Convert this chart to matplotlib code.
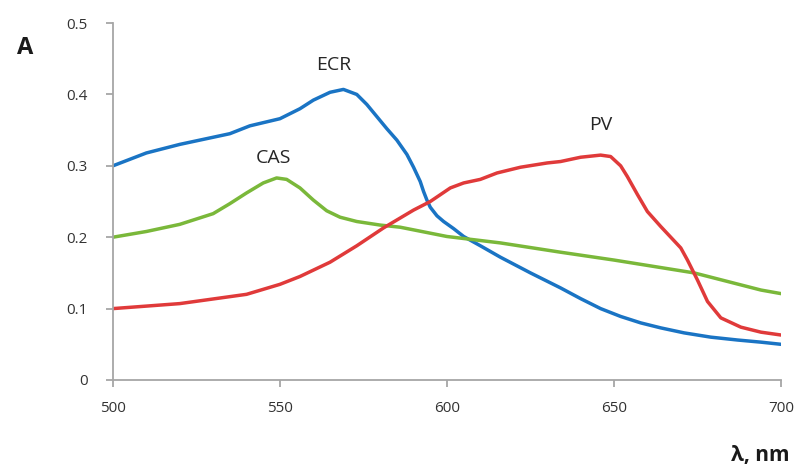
import numpy as np
import matplotlib.pyplot as plt

plt.rcParams['font.family'] = ['Open Sans', 'DejaVu Sans']

# ECR
ecr_x = [500, 510, 520, 526, 535, 541, 550, 556, 560, 565, 569, 573, 576, 579,
         582, 585, 588, 590, 592, 593, 594, 595, 597, 599, 602, 605, 610, 616,
         625, 634, 640, 646, 652, 658, 664, 671, 679, 687, 694, 700]
ecr_y = [0.300, 0.318, 0.330, 0.336, 0.345, 0.356, 0.366, 0.380, 0.392, 0.403,
         0.407, 0.400, 0.386, 0.369, 0.352, 0.336, 0.316, 0.298, 0.278, 0.264,
         0.252, 0.242, 0.230, 0.222, 0.212, 0.201, 0.188, 0.172, 0.150, 0.129,
         0.114, 0.100, 0.089, 0.080, 0.073, 0.066, 0.060, 0.056, 0.053, 0.050]

# CAS
cas_x = [500, 510, 520, 530, 535, 540, 545, 549, 552, 556, 560, 564, 568, 573,
         580, 586, 600, 616, 634, 650, 674, 694, 700]
cas_y = [0.200, 0.208, 0.218, 0.233, 0.247, 0.262, 0.276, 0.283, 0.281, 0.269,
         0.252, 0.237, 0.228, 0.222, 0.217, 0.214, 0.201, 0.192, 0.179, 0.168,
         0.150, 0.126, 0.121]

# PV
pv_x = [500, 520, 540, 550, 556, 565, 573, 581, 590, 595, 601, 605, 610, 615,
        622, 630, 634, 640, 646, 649, 652, 654, 657, 660, 664, 667, 670, 672,
        675, 678, 682, 688, 694, 700]
pv_y = [0.100, 0.107, 0.120, 0.134, 0.145, 0.165, 0.188, 0.213, 0.238, 0.250,
        0.269, 0.276, 0.281, 0.290, 0.298, 0.304, 0.306, 0.312, 0.315, 0.313,
        0.300, 0.285, 0.260, 0.236, 0.215, 0.200, 0.185, 0.168, 0.140, 0.110,
        0.087, 0.074, 0.067, 0.063]

fig = plt.figure(figsize=(8.01, 4.70), dpi=100)
ax = fig.add_axes([0.141, 0.1915, 0.834, 0.7595])

lw = 2.5
ax.plot(ecr_x, ecr_y, color='#1a74c4', lw=lw, solid_capstyle='round', solid_joinstyle='round')
ax.plot(cas_x, cas_y, color='#7ab83a', lw=lw, solid_capstyle='round', solid_joinstyle='round')
ax.plot(pv_x, pv_y, color='#e03a3a', lw=lw, solid_capstyle='round', solid_joinstyle='round')

ax.set_xlim(500, 700)
ax.set_ylim(0, 0.5)
ax.set_xticks([500, 550, 600, 650, 700])
ax.set_yticks([0, 0.1, 0.2, 0.3, 0.4, 0.5])
ax.set_yticklabels(['0', '0.1', '0.2', '0.3', '0.4', '0.5'])

for s in ['top', 'right']:
    ax.spines[s].set_visible(False)
for s in ['left', 'bottom']:
    ax.spines[s].set_color('#a6a6a6')
    ax.spines[s].set_linewidth(1.3)
ax.tick_params(axis='both', colors='#a6a6a6', length=5, width=1.3,
               labelcolor='#333333', labelsize=11)
ax.tick_params(axis='x', pad=10)
ax.tick_params(axis='y', pad=13)

ax.text(566, 0.441, 'ECR', fontsize=14, color='#262626', ha='center', va='center')
ax.text(548, 0.311, 'CAS', fontsize=14, color='#262626', ha='center', va='center')
ax.text(646, 0.357, 'PV', fontsize=14, color='#262626', ha='center', va='center')

fig.text(25 / 801, 1 - 48 / 470, 'A', fontsize=17, fontweight='bold',
         color='#1a1a1a', ha='center', va='center')
fig.text(760 / 801, 1 - 455 / 470, 'λ, nm', fontsize=15, fontweight='bold',
         color='#1a1a1a', ha='center', va='center')

fig.savefig('out.png', dpi=100)
